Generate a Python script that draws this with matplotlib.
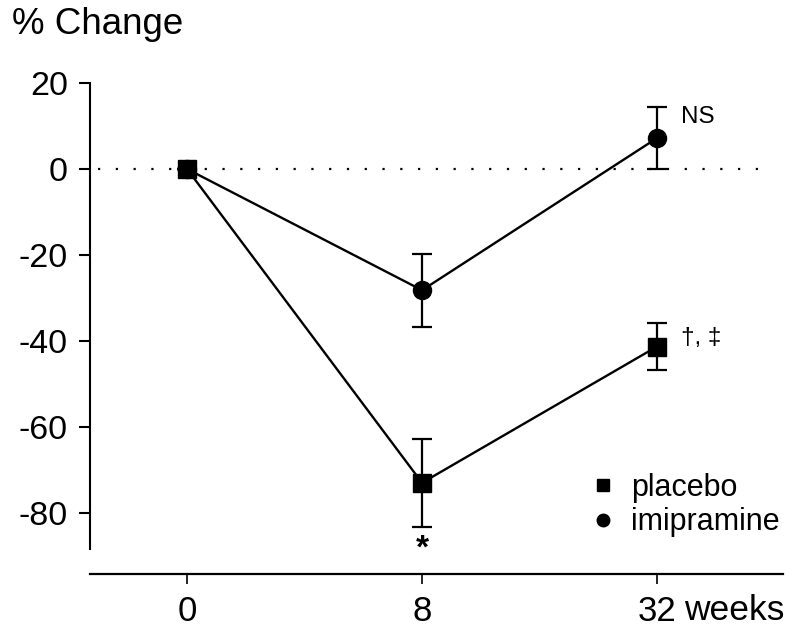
import numpy as np
import matplotlib
matplotlib.use("Agg")
import matplotlib.pyplot as plt
from matplotlib.lines import Line2D

plt.rcParams['font.family'] = ['Liberation Sans', 'DejaVu Sans']
plt.rcParams['axes.unicode_minus'] = False

weeks = ["0", "8", "32"]
placebo = [0, -73, -41.3]
placebo_err = [0, 10.2, 5.5]
imipramine = [0, -28.2, 7.2]
imipramine_err = [0, 8.5, 7.3]

x = np.arange(len(weeks))

fig = plt.figure(figsize=(7.95, 6.27), dpi=100)
ax = fig.add_axes([0.1132, 0.1244, 0.8717, 0.7432])

# zero reference line
ax.axhline(0, xmin=0.012, xmax=0.98, color="black", lw=1.6,
           linestyle=(0, (1, 7)), zorder=1)

ax.errorbar(x, imipramine, yerr=imipramine_err, fmt="o-", color="black",
            ms=13, lw=1.7, elinewidth=1.6, capsize=7, capthick=1.6, zorder=3)
ax.errorbar(x, placebo, yerr=placebo_err, fmt="s-", color="black",
            ms=12.5, lw=1.7, elinewidth=1.6, capsize=7, capthick=1.6, zorder=4)

ax.set_xlim(-0.413, 2.536)
ax.set_ylim(-88.4, 20)
ax.set_yticks([20, 0, -20, -40, -60, -80])
ax.set_xticks(x)
ax.set_xticklabels(weeks)

for s in ["top", "right"]:
    ax.spines[s].set_visible(False)
ax.spines["bottom"].set_position(("outward", 18))
ax.spines["left"].set_linewidth(1.5)
ax.spines["bottom"].set_linewidth(1.6)
ax.tick_params(axis="y", length=8, width=1.5, pad=8, labelsize=24.5)
ax.tick_params(axis="x", length=7, width=1.2, pad=8, labelsize=25)

ax.annotate("weeks", xy=(2, 0), xycoords=ax.get_xaxis_transform(),
            xytext=(27, -61), textcoords="offset pixels",
            ha="left", va="center", fontsize=25.5)

fig.text(12 / 795, 1 - 25 / 627, "% Change", ha="left", va="center", fontsize=26.5)

# significance marks
ax.annotate("NS", xy=(2, imipramine[2] + imipramine_err[2]), xytext=(24, -10),
            textcoords="offset pixels", ha="left", va="center", fontsize=17.5)
ax.annotate("†, ‡", xy=(2, placebo[2] + placebo_err[2]), xytext=(24, -15),
            textcoords="offset pixels", ha="left", va="center", fontsize=17.5)
ax.annotate("*", xy=(1, placebo[1] - placebo_err[1]), xytext=(0, -22),
            textcoords="offset pixels", ha="center", va="center", fontsize=24,
            fontweight="bold")

handles = [Line2D([], [], marker="s", color="black", ls="none", ms=9),
           Line2D([], [], marker="o", color="black", ls="none", ms=9)]
ax.legend(handles, ["placebo", "imipramine"], loc="center left",
          bbox_to_anchor=(588 / 795, 1 - 505 / 627), bbox_transform=fig.transFigure,
          frameon=False, fontsize=22, borderpad=0, borderaxespad=0,
          handlelength=0.95, handletextpad=0.45, labelspacing=0.15)

fig.savefig("out.png", dpi=100)
